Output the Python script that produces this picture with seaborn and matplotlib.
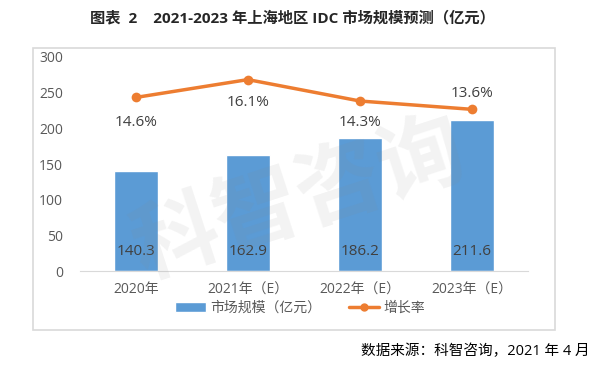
import matplotlib
matplotlib.use("Agg")
import matplotlib.pyplot as plt
import seaborn as sns
from matplotlib.patches import Rectangle
from matplotlib.lines import Line2D
from matplotlib.patches import Patch

years = ["2020年", "2021年（E）", "2022年（E）", "2023年（E）"]
market = [140.3, 162.9, 186.2, 211.6]
growth = [14.6, 16.1, 14.3, 13.6]

sns.set_style("white")
plt.rcParams["font.family"] = ["Open Sans", "Noto Sans CJK SC", "DejaVu Sans"]

bar_color = "#5B9BD5"
line_color = "#ED7D31"
text_gray = "#595959"

fig = plt.figure(figsize=(6, 3.75), dpi=100)
ax = fig.add_axes([0.133, 0.277, 0.747, 0.571])

# chart frame
fig.patches.append(Rectangle((0.055, 0.12), 0.87, 0.752, transform=fig.transFigure,
                             fill=False, edgecolor="#D9D9D9", linewidth=1.2))

sns.barplot(x=years, y=market, color=bar_color, width=0.39, saturation=1, ax=ax, zorder=2)
ax.set_ylim(0, 300)
ax.set_xlim(-0.5, 3.5)
ax.set_yticks(range(0, 301, 50))
for s in ["top", "right", "left"]:
    ax.spines[s].set_visible(False)
ax.spines["bottom"].set_color("#D9D9D9")
ax.tick_params(axis="y", length=0, pad=12, labelsize=10, labelcolor=text_gray)
ax.tick_params(axis="x", length=0, pad=8, labelsize=10, labelcolor=text_gray)
ax.set_xlabel("")
ax.set_ylabel("")

for i, v in enumerate(market):
    ax.text(i, 27, f"{v}", ha="center", va="center", fontsize=11, color="#404040", zorder=5)

ax2 = ax.twinx()
sns.lineplot(x=list(range(len(growth))), y=growth, color=line_color, linewidth=2.5,
             marker="o", markersize=7, markeredgewidth=0, ax=ax2, zorder=3)
ax2.set_ylim(0, 18)
ax2.set_xlim(-0.5, 3.5)
ax2.axis("off")

offsets = [-2.1, -1.95, -1.8, 1.3]
for i, g in enumerate(growth):
    ax2.text(i, g + offsets[i], f"{g}%", ha="center", va="center", fontsize=11, color="#404040")

# watermark
fig.text(0.5, 0.46, "科智咨询", fontsize=62, fontweight="bold", color="#888888", alpha=0.1,
         rotation=18, ha="center", va="center", zorder=10)

handles = [Patch(facecolor=bar_color), Line2D([0], [0], color=line_color, linewidth=2.5,
                                              marker="o", markersize=5)]
fig.legend(handles, ["市场规模（亿元）", "增长率"], loc="center", bbox_to_anchor=(0.5, 0.178),
           ncol=2, frameon=False, fontsize=10, labelcolor=text_gray, handlelength=2.2,
           handletextpad=0.3, columnspacing=2.0)

fig.text(0.487, 0.952, "图表  2    2021-2023 年上海地区 IDC 市场规模预测（亿元）",
         ha="center", va="center", fontsize=11, fontweight="bold", color="#262626")
fig.text(0.982, 0.063, "数据来源：科智咨询，2021 年 4 月", ha="right", va="center",
         fontsize=10.5, color="#000000")

fig.savefig("out.png", dpi=100)
